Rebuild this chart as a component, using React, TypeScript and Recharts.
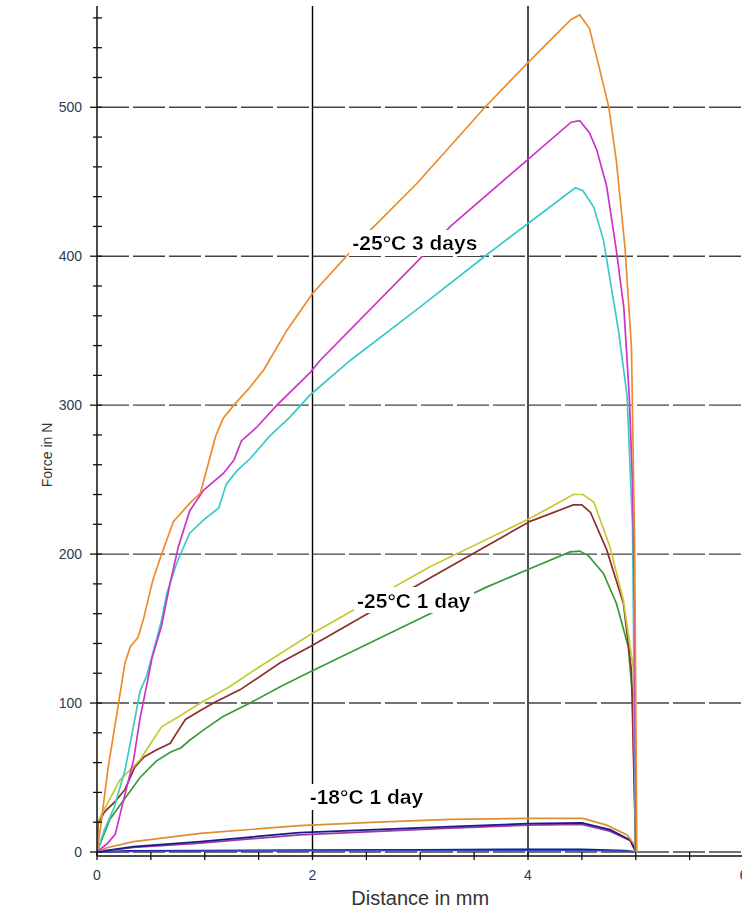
import React from 'react';
import { ComposedChart, Line, Scatter, XAxis, YAxis, CartesianGrid } from 'recharts';

type P = [number, number];

// -25°C 3 days
const orange3Days: P[] = [[0,0],[0.03,15],[0.1,55],[0.2,100],[0.26,127],[0.31,138],[0.38,144],[0.43,156],[0.52,183],[0.6,200],[0.71,222],[0.86,234],[0.96,241],[1.1,279],[1.17,291],[1.27,300],[1.42,312],[1.55,324],[1.76,350],[2.0,375],[2.53,417],[2.97,449],[3.28,474],[3.6,500],[4.0,530],[4.4,559],[4.48,562],[4.57,553],[4.65,530],[4.75,500],[4.82,464],[4.9,406],[4.96,339],[4.99,205],[5.01,0]];
const magenta3Days: P[] = [[0,0],[0.1,6],[0.17,12],[0.24,33],[0.34,62],[0.4,90],[0.47,115],[0.51,130],[0.6,152],[0.68,181],[0.755,205],[0.86,229],[0.99,243],[1.17,254],[1.27,263],[1.34,276],[1.48,285],[1.67,300],[1.98,322],[2.07,330],[2.98,397],[3.28,420],[4.0,465],[4.4,490],[4.48,491],[4.57,483],[4.64,471],[4.73,447],[4.82,404],[4.89,365],[4.94,306],[4.97,248],[4.99,161],[5.0,0]];
const cyan3Days: P[] = [[0,0],[0.07,15],[0.16,30],[0.26,55],[0.34,85],[0.4,108],[0.46,118],[0.55,142],[0.6,156],[0.65,174],[0.74,194],[0.86,214],[0.99,223],[1.13,231],[1.2,247],[1.3,256],[1.42,264],[1.6,279],[1.79,292],[1.98,307],[2.35,330],[3.0,366],[3.6,400],[4.0,422],[4.44,446],[4.51,444],[4.61,433],[4.7,411],[4.84,350],[4.92,306],[4.97,219],[5.0,0]];

// -25°C 1 day
const yellow1Day: P[] = [[0,0],[0.005,20],[0.07,29],[0.21,48],[0.4,62],[0.49,72],[0.6,84],[0.76,91],[0.96,100],[1.23,111],[1.48,123],[1.98,146],[3.09,191.5],[4.02,224],[4.42,240],[4.51,240],[4.61,235],[4.76,205],[4.885,169],[4.98,122],[5.0,0]];
const brown1Day: P[] = [[0,0],[0.01,19],[0.07,27],[0.17,34],[0.26,42],[0.35,57],[0.44,64],[0.55,68.5],[0.68,73],[0.74,80],[0.82,89],[0.96,95],[1.08,100],[1.33,109],[1.7,127],[1.98,138],[3.09,184],[4.02,222],[4.42,233],[4.5,233],[4.58,228],[4.73,203],[4.885,167],[4.96,122],[5.0,0]];
const green1Day: P[] = [[0,0],[0.12,22],[0.24,34],[0.4,50],[0.55,61],[0.68,67],[0.78,70],[0.86,75],[0.99,82],[1.17,91],[1.42,100],[1.7,111],[1.98,121],[3.09,160],[3.62,178],[4.01,190],[4.39,201.5],[4.48,202],[4.56,199],[4.7,187],[4.82,167],[4.93,138],[4.97,105],[5.0,0]];

// -18°C 1 day
const orangeLow: P[] = [[0,0],[0.1,3],[0.34,7],[0.96,12.5],[1.88,17.7],[2.6,20],[3.28,21.9],[4.0,22.6],[4.51,22.6],[4.73,18],[4.92,11.4],[4.99,4.7],[5.0,0]];
const navyLow: P[] = [[0,0],[0.34,3.6],[0.96,7],[1.88,13],[3.28,17],[4.0,19],[4.5,19.5],[4.76,15],[4.95,8],[5.0,0]];
const purpleLow: P[] = [[0,0],[0.34,3],[0.96,6],[1.88,11.5],[3.28,16],[4.0,18],[4.5,18.5],[4.76,14],[4.95,7.5],[5.0,0]];
const navyZero: P[] = [[0,0],[0.3,0.8],[1,1],[2,1.2],[3,1.5],[4,1.8],[4.5,1.8],[4.9,1],[5,0]];
const blueZero: P[] = [[0,0],[0.5,0.5],[1.5,0.7],[3,1],[4.5,1],[4.95,0.5],[5,0]];

const seriesList: { name: string; points: P[]; color: string }[] = [
  { name: 'navyZero', points: navyZero, color: '#10108a' },
  { name: 'blueZero', points: blueZero, color: '#3050c8' },
  { name: 'purpleLow', points: purpleLow, color: '#9a3aa0' },
  { name: 'navyLow', points: navyLow, color: '#1a1a90' },
  { name: 'orangeLow', points: orangeLow, color: '#dc9030' },
  { name: 'green1Day', points: green1Day, color: '#3a9a3a' },
  { name: 'brown1Day', points: brown1Day, color: '#8e2e2e' },
  { name: 'yellow1Day', points: yellow1Day, color: '#c8c832' },
  { name: 'cyan3Days', points: cyan3Days, color: '#3cc8c8' },
  { name: 'magenta3Days', points: magenta3Days, color: '#cc33cc' },
  { name: 'orange3Days', points: orange3Days, color: '#ee8a2e' },
];

const annotations = [
  { x: 2.95, y: 409, text: '-25°C 3 days' },
  { x: 2.94, y: 169, text: '-25°C 1 day' },
  { x: 2.5, y: 37, text: '-18°C 1 day' },
];

const xTicks = [0, 0.5, 1, 1.5, 2, 2.5, 3, 3.5, 4, 4.5, 5, 5.5, 6];
const xLabelTicks = [0, 2, 4, 6];
const yTicks = [0, 20, 40, 60, 80, 100, 120, 140, 160, 180, 200, 220, 240, 260, 280, 300, 320, 340, 360, 380, 400, 420, 440, 460, 480, 500, 520, 540, 560];
const yLabelTicks = [0, 100, 200, 300, 400, 500];
const gridX = [2, 4, 6];
const gridY = [0, 100, 200, 300, 400, 500];

const FONT = '"Liberation Sans", Arial, sans-serif';

const toRows = (pts: P[]) => pts.map(([x, y]) => ({ x, y }));

const YTick = (props: any) => {
  const { x, y, payload } = props;
  const v = payload.value;
  const major = yLabelTicks.includes(v);
  return (
    <g>
      <line x1={major ? x - 7 : x - 4} x2={x + 5} y1={y} y2={y} stroke="#111" strokeWidth={1.3} />
      {major && (
        <text x={x - 15} y={y} dy="0.35em" textAnchor="end" fontSize={14} fill="#2e3a55" fontFamily={FONT}>
          {v}
        </text>
      )}
    </g>
  );
};

const XTick = (props: any) => {
  const { x, y, payload } = props;
  const v = payload.value;
  const major = xLabelTicks.includes(v);
  return (
    <g>
      <line x1={x} x2={x} y1={y - 4} y2={y + 4} stroke="#111" strokeWidth={1.3} />
      {major && (
        <text x={x} y={y + 19} dy="0.35em" textAnchor="middle" fontSize={14} fill="#2e3a55" fontFamily={FONT}>
          {v}
        </text>
      )}
    </g>
  );
};

const AnnotationShape = (props: any) => {
  const { cx, cy, payload, index } = props;
  const id = `bgf${index}`;
  return (
    <g>
      <defs>
        <filter id={id} x="-0.02" y="-0.04" width="1.04" height="1.08">
          <feFlood floodColor="#ffffff" />
          <feComposite in="SourceGraphic" operator="over" />
        </filter>
      </defs>
      <text
        x={cx}
        y={cy}
        dy="0.36em"
        textAnchor="middle"
        fontSize={21}
        fontWeight="bold"
        fill="#000"
        fontFamily={FONT}
        filter={`url(#${id})`}
      >
        {payload.text}
      </text>
    </g>
  );
};

export default function App() {
  return (
    <div style={{ position: 'absolute', left: 0, top: 0, width: 742, height: 909, overflow: 'hidden', background: '#fff' }}>
      <ComposedChart width={760} height={909} margin={{ top: 6, right: 16.5, left: 0, bottom: 0 }}>
        <CartesianGrid horizontal={false} vertical verticalValues={gridX} stroke="#000" strokeWidth={1.4} />
        <CartesianGrid vertical={false} horizontal horizontalValues={gridY} stroke="#444" strokeWidth={1.4} strokeDasharray="32 4" />
        <XAxis
          dataKey="x"
          type="number"
          domain={[0, 6]}
          ticks={xTicks}
          allowDataOverflow
          height={53}
          tickSize={0}
          tickMargin={0}
          tickLine={false}
          axisLine={{ stroke: '#111', strokeWidth: 1.5 }}
          tick={<XTick />}
          interval={0}
          label={{ value: 'Distance in mm', position: 'insideBottom', offset: 4, fontSize: 20, fill: '#333', fontFamily: FONT }}
        />
        <YAxis
          type="number"
          domain={[-2.7, 568]}
          ticks={yTicks}
          allowDataOverflow
          width={97}
          tickSize={0}
          tickMargin={0}
          tickLine={false}
          axisLine={{ stroke: '#111', strokeWidth: 1.5 }}
          tick={<YTick />}
          interval={0}
          label={{
            content: () => (
              <text x={47} y={455} transform="rotate(-90 47 455)" textAnchor="middle" dy="0.35em" fontSize={14} fill="#333" fontFamily={FONT}>
                Force in N
              </text>
            ),
          }}
        />
        {seriesList.map((s) => (
          <Line
            key={s.name}
            data={toRows(s.points)}
            dataKey="y"
            type="linear"
            stroke={s.color}
            strokeWidth={1.7}
            dot={false}
            activeDot={false}
            isAnimationActive={false}
          />
        ))}
        <Scatter data={annotations} dataKey="y" shape={<AnnotationShape />} isAnimationActive={false} />
      </ComposedChart>
    </div>
  );
}
